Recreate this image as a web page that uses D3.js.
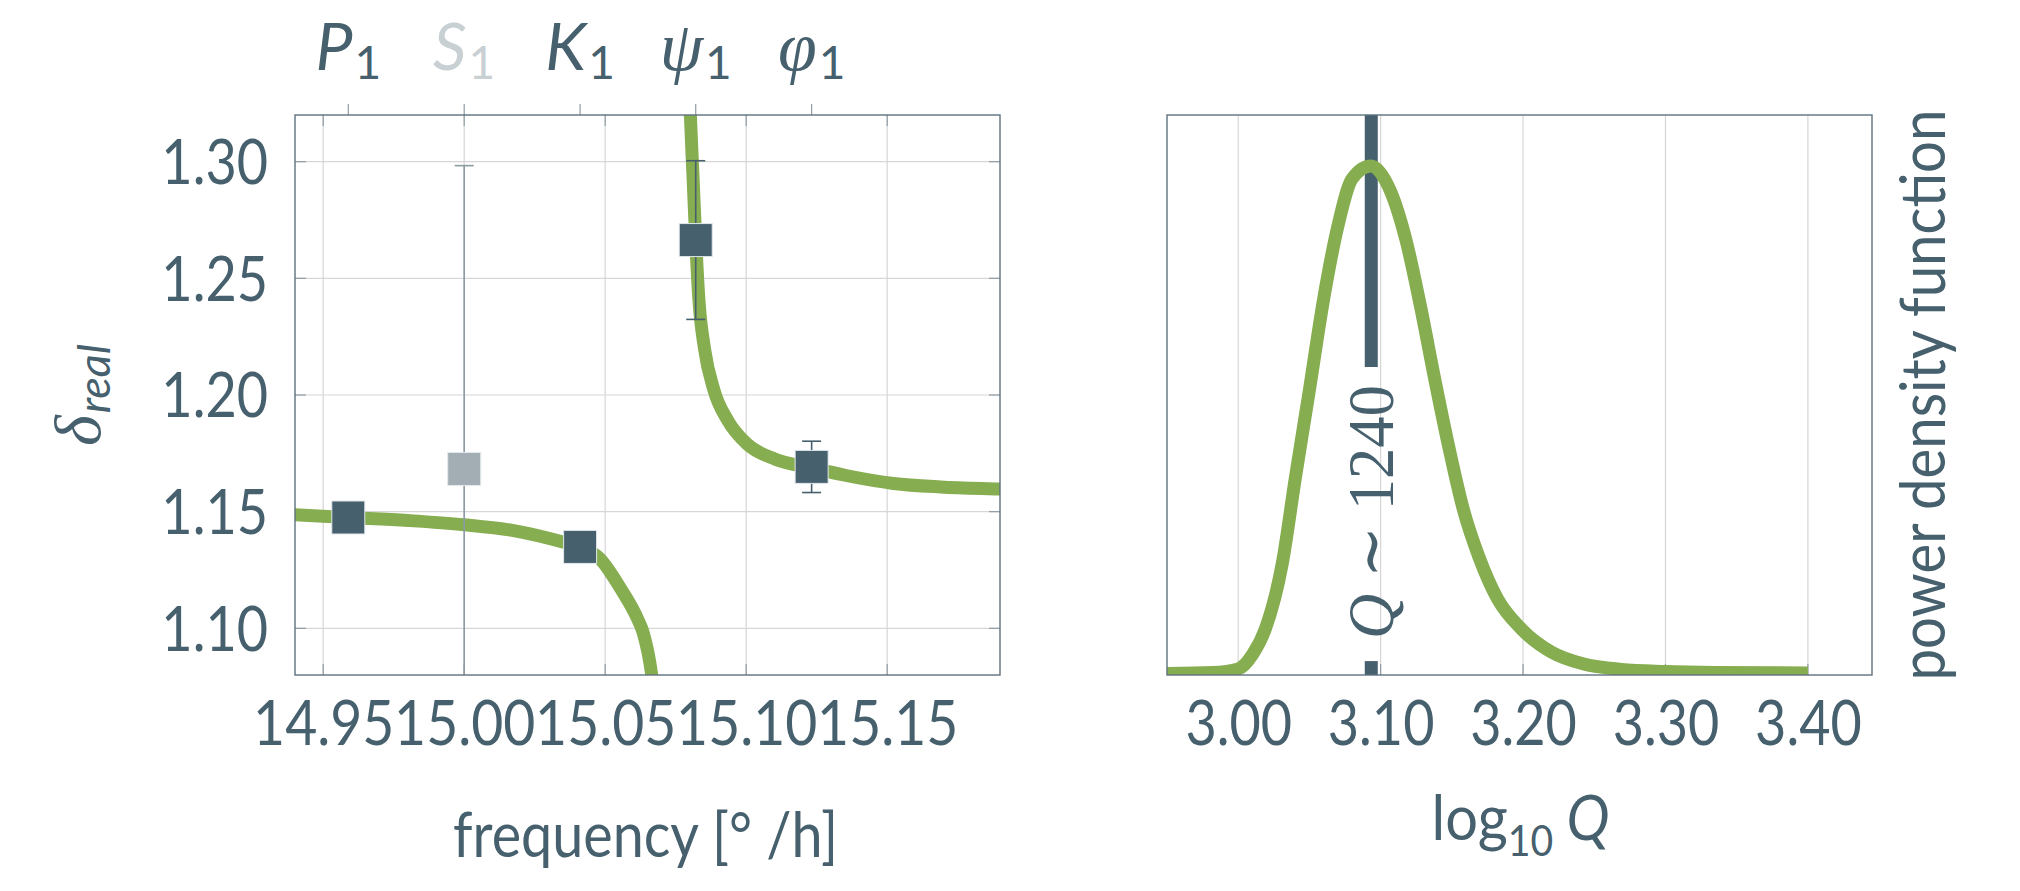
<!DOCTYPE html>
<html>
<head>
<meta charset="utf-8">
<script src="https://cdn.jsdelivr.net/npm/d3@7"></script>
<style>
  body { margin: 0; background: #fff; }
  svg text { font-family: Lato, 'Noto Sans', sans-serif; fill: #46606e; }
</style>
</head>
<body>
<svg id="chart" width="2020" height="891"></svg>
<script>
'use strict';

// diurnal tidal waves: name, frequency [deg/h], observed delta and its error
var waveNames = ['P', 'S', 'K', 'ψ', 'φ'];
var waveGreek = [false, false, false, true, true];
var waveFreq = [14.9589, 15.0000, 15.0411, 15.0821, 15.1232];
var deltaObs = [1.1475, 1.1683, 1.1349, 1.2664, 1.1692];
var deltaErr = [0.003, 0.130, 0.003, 0.034, 0.011];
var waveUsed = [true, false, true, true, true];

// fitted resonance curve (two branches around the NDFW)
var lowFreq = [14.935, 14.940, 14.959, 14.980, 15.000, 15.018, 15.035, 15.041, 15.048, 15.0555, 15.0615, 15.0635, 15.0665, 15.0675];
var lowDelta = [1.1490, 1.1487, 1.1475, 1.1462, 1.1444, 1.1418, 1.1370, 1.1349, 1.1300, 1.1170, 1.1040, 1.0980, 1.0800, 1.0700];
var highFreq = [15.0795, 15.0802, 15.0812, 15.0821, 15.0832, 15.0852, 15.0886, 15.0936, 15.1003, 15.1103, 15.1232, 15.1354, 15.1522, 15.1689, 15.1900, 15.1950];
var highDelta = [1.3450, 1.3200, 1.2920, 1.2664, 1.2413, 1.2200, 1.2019, 1.1888, 1.1790, 1.1725, 1.1688, 1.1655, 1.1621, 1.1606, 1.1597, 1.1595];

// probability density of log10 Q (normalised to the peak)
var logQ = [2.950, 2.982, 3.000, 3.010, 3.019, 3.031, 3.040, 3.050, 3.060, 3.070, 3.080, 3.093, 3.107, 3.118, 3.128, 3.138, 3.148, 3.158, 3.169, 3.182, 3.199, 3.220, 3.242, 3.269, 3.300, 3.335, 3.400];
var pdf = [0.003, 0.005, 0.012, 0.040, 0.090, 0.220, 0.385, 0.560, 0.739, 0.882, 0.975, 1.000, 0.950, 0.852, 0.724, 0.581, 0.446, 0.326, 0.232, 0.150, 0.090, 0.045, 0.022, 0.011, 0.007, 0.005, 0.004];
var bestQ = 1240;

var freqTicks = [14.95, 15.00, 15.05, 15.10, 15.15];
var deltaTicks = [1.10, 1.15, 1.20, 1.25, 1.30];
var qTicks = [3.00, 3.10, 3.20, 3.30, 3.40];

var dark = '#46606e';
var light = '#a3aeb4';
var lightText = '#c8d0d4';
var green = '#86ad50';
var gridColor = '#d6d6d6';
var tickColor = '#8e9ca5';
var frameColor = '#5d717e';
var serif = "'Liberation Serif', 'DejaVu Serif', serif";

var L = { x0: 295, x1: 1000, y0: 115, y1: 675 };
var R = { x0: 1167, x1: 1872, y0: 115, y1: 675 };

var svg = d3.select('#chart');
svg.append('rect').attr('width', 2020).attr('height', 891).attr('fill', '#fff');

var x = d3.scaleLinear().domain([14.94, 15.19]).range([L.x0, L.x1]);
var y = d3.scaleLinear().domain([1.08, 1.32]).range([L.y1, L.y0]);
var xq = d3.scaleLinear().domain([2.95, 3.445]).range([R.x0, R.x1]);
var yq = d3.scaleLinear().domain([0, 1.1]).range([R.y1, R.y0]);
var fmt = d3.format('.2f');

// label widths in the figure's narrow sans face (digits 0.5em, dot 0.278em)
var labelWidth = function labelWidth(s, size) {
  var w = 0;
  for (var i = 0; i < s.length; i++) w += s[i] === '.' ? 0.278 : 0.5;
  return w * size;
};

var defs = svg.append('defs');
defs.append('clipPath').attr('id', 'clipL').append('rect')
  .attr('x', L.x0).attr('y', L.y0).attr('width', L.x1 - L.x0).attr('height', L.y1 - L.y0);
defs.append('clipPath').attr('id', 'clipR').append('rect')
  .attr('x', R.x0).attr('y', R.y0).attr('width', R.x1 - R.x0).attr('height', R.y1 - R.y0);

// ---------- left panel ----------
var left = svg.append('g');

left.selectAll('line.vgrid').data(freqTicks).enter().append('line')
  .attr('x1', x).attr('x2', x).attr('y1', L.y0).attr('y2', L.y1)
  .attr('stroke', gridColor).attr('stroke-width', 1.2);
left.selectAll('line.hgrid').data(deltaTicks).enter().append('line')
  .attr('y1', y).attr('y2', y).attr('x1', L.x0).attr('x2', L.x1)
  .attr('stroke', gridColor).attr('stroke-width', 1.2);

// inward ticks on all four sides
[L.y0, L.y1].forEach(function (yy, k) {
  left.selectAll(null).data(freqTicks).enter().append('line')
    .attr('x1', x).attr('x2', x).attr('y1', yy).attr('y2', yy + (k ? -11 : 11))
    .attr('stroke', tickColor).attr('stroke-width', 1.2);
});
[L.x0, L.x1].forEach(function (xx, k) {
  left.selectAll(null).data(deltaTicks).enter().append('line')
    .attr('y1', y).attr('y2', y).attr('x1', xx).attr('x2', xx + (k ? -11 : 11))
    .attr('stroke', tickColor).attr('stroke-width', 1.2);
});

// wave ticks above the frame
left.selectAll('line.wave').data(waveFreq).enter().append('line')
  .attr('x1', x).attr('x2', x).attr('y1', L.y0).attr('y2', L.y0 - 11)
  .attr('stroke', tickColor).attr('stroke-width', 1.2);

var line = d3.line().curve(d3.curveMonotoneX);
var curves = left.append('g').attr('clip-path', 'url(#clipL)');
[[lowFreq, lowDelta], [highFreq, highDelta]].forEach(function (branch) {
  curves.append('path')
    .attr('d', line(branch[0].map(function (f, i) { return [x(f), y(branch[1][i])]; })))
    .attr('fill', 'none').attr('stroke', green).attr('stroke-width', 13);
});

var waves = d3.range(waveFreq.length);
var bars = left.append('g').attr('clip-path', 'url(#clipL)');
bars.selectAll('line.err').data(waves).enter().append('line')
  .attr('x1', function (i) { return x(waveFreq[i]); })
  .attr('x2', function (i) { return x(waveFreq[i]); })
  .attr('y1', function (i) { return y(deltaObs[i] - deltaErr[i]); })
  .attr('y2', function (i) { return y(deltaObs[i] + deltaErr[i]); })
  .attr('stroke', function (i) { return waveUsed[i] ? dark : '#8c9ba4'; })
  .attr('stroke-width', 1.6);
[-1, 1].forEach(function (s) {
  bars.selectAll(null).data(waves).enter().append('line')
    .attr('x1', function (i) { return x(waveFreq[i]) - 9.5; })
    .attr('x2', function (i) { return x(waveFreq[i]) + 9.5; })
    .attr('y1', function (i) { return y(deltaObs[i] + s * deltaErr[i]); })
    .attr('y2', function (i) { return y(deltaObs[i] + s * deltaErr[i]); })
    .attr('stroke', function (i) { return waveUsed[i] ? dark : '#8c9ba4'; })
    .attr('stroke-width', 1.6);
});

left.selectAll('rect.obs').data(waves).enter().append('rect')
  .attr('x', function (i) { return x(waveFreq[i]) - 16.5; })
  .attr('y', function (i) { return y(deltaObs[i]) - 16.5; })
  .attr('width', 33).attr('height', 33)
  .attr('fill', function (i) { return waveUsed[i] ? dark : light; })
  .attr('stroke', '#e2e8eb').attr('stroke-width', 1);

left.append('rect')
  .attr('x', L.x0).attr('y', L.y0).attr('width', L.x1 - L.x0).attr('height', L.y1 - L.y0)
  .attr('fill', 'none').attr('stroke', frameColor).attr('stroke-width', 1.4);

// tick labels
var yAxis = left.append('g').attr('transform', 'translate(' + L.x0 + ',0)')
  .call(d3.axisLeft(y).tickValues(deltaTicks).tickFormat(fmt).tickSize(0).tickPadding(27));
var xAxis = left.append('g').attr('transform', 'translate(0,' + L.y1 + ')')
  .call(d3.axisBottom(x).tickValues(freqTicks).tickFormat(fmt).tickSize(0).tickPadding(27));
[yAxis, xAxis].forEach(function (ax) {
  ax.select('.domain').remove();
  ax.selectAll('text').attr('font-size', 61).attr('font-family', null).attr('fill', dark)
    .attr('lengthAdjust', 'spacingAndGlyphs');
});
yAxis.selectAll('text').attr('dy', '0.36em')
  .attr('textLength', function (d) { return labelWidth(fmt(d), 60); });
xAxis.selectAll('text')
  .attr('textLength', function (d) { return labelWidth(fmt(d), 62); });

// wave names above the panel
var names = left.selectAll('text.wave').data(waves).enter().append('text')
  .attr('x', function (i) { return x(waveFreq[i]); })
  .attr('y', 70)
  .attr('text-anchor', 'middle')
  .style('fill', function (i) { return waveUsed[i] ? dark : lightText; });
names.append('tspan')
  .attr('font-size', function (i) { return waveGreek[i] ? 70 : 66; })
  .attr('font-style', 'italic')
  .style('font-family', function (i) { return waveGreek[i] ? serif : null; })
  .style('fill', function (i) { return waveUsed[i] ? dark : lightText; })
  .text(function (i) { return waveNames[i]; });
names.append('tspan')
  .attr('font-size', 46).attr('dy', 9).attr('dx', 2)
  .style('fill', function (i) { return waveUsed[i] ? dark : lightText; })
  .text('1');

var ylab = left.append('text')
  .attr('transform', 'translate(100,' + ((L.y0 + L.y1) / 2) + ') rotate(-90)')
  .attr('text-anchor', 'middle');
ylab.append('tspan').style('font-family', serif).attr('font-style', 'italic').attr('font-size', 66).text('δ');
ylab.append('tspan').attr('font-style', 'italic').attr('font-size', 45).attr('dy', 10).attr('dx', 2).text('real');

left.append('text')
  .attr('x', (L.x0 + L.x1) / 2 - 2).attr('y', 857)
  .attr('text-anchor', 'middle').attr('font-size', 62)
  .attr('textLength', 385).attr('lengthAdjust', 'spacingAndGlyphs')
  .text('frequency [° /h]');

// ---------- right panel ----------
var right = svg.append('g');

right.selectAll('line.vgrid').data(qTicks).enter().append('line')
  .attr('x1', xq).attr('x2', xq).attr('y1', R.y0).attr('y2', R.y1)
  .attr('stroke', gridColor).attr('stroke-width', 1.2);
right.selectAll('line.btick').data(qTicks).enter().append('line')
  .attr('x1', xq).attr('x2', xq).attr('y1', R.y1).attr('y2', R.y1 - 11)
  .attr('stroke', tickColor).attr('stroke-width', 1.2);

var qx = xq(Math.log10(bestQ));
var labelMid = yq(0.32);
var qLabel = right.append('text')
  .attr('transform', 'translate(' + qx + ',' + labelMid + ') rotate(-90)')
  .attr('text-anchor', 'middle').attr('dy', '0.33em')
  .style('font-family', serif).attr('font-size', 66)
  .attr('textLength', 254).attr('lengthAdjust', 'spacingAndGlyphs');
qLabel.append('tspan').attr('font-style', 'italic').text('Q');
qLabel.append('tspan').text(' ∼ 1240');

// marker line with a gap for its label
var half = 254 / 2;
right.append('line')
  .attr('x1', qx).attr('x2', qx).attr('y1', R.y0).attr('y2', labelMid - half - 18)
  .attr('stroke', dark).attr('stroke-width', 13);
right.append('line')
  .attr('x1', qx).attr('x2', qx).attr('y1', labelMid + half + 22).attr('y2', R.y1)
  .attr('stroke', dark).attr('stroke-width', 13);

right.append('g').attr('clip-path', 'url(#clipR)').append('path')
  .attr('d', line(logQ.map(function (q, i) { return [xq(q), yq(pdf[i])]; })))
  .attr('fill', 'none').attr('stroke', green).attr('stroke-width', 13);

right.append('rect')
  .attr('x', R.x0).attr('y', R.y0).attr('width', R.x1 - R.x0).attr('height', R.y1 - R.y0)
  .attr('fill', 'none').attr('stroke', frameColor).attr('stroke-width', 1.4);

var qAxis = right.append('g').attr('transform', 'translate(0,' + R.y1 + ')')
  .call(d3.axisBottom(xq).tickValues(qTicks).tickFormat(fmt).tickSize(0).tickPadding(27));
qAxis.select('.domain').remove();
qAxis.selectAll('text').attr('font-size', 61).attr('font-family', null).attr('fill', dark)
  .attr('textLength', function (d) { return labelWidth(fmt(d), 60); })
  .attr('lengthAdjust', 'spacingAndGlyphs');

var qlab = right.append('text')
  .attr('x', (R.x0 + R.x1) / 2 + 1).attr('y', 840)
  .attr('text-anchor', 'middle')
  .attr('textLength', 178).attr('lengthAdjust', 'spacingAndGlyphs');
qlab.append('tspan').attr('font-size', 62).text('log');
qlab.append('tspan').attr('font-size', 42).attr('dy', 16).text('10');
qlab.append('tspan').attr('font-size', 62).attr('font-style', 'italic').attr('dy', -16).attr('dx', 14).text('Q');

right.append('text')
  .attr('transform', 'translate(1945,' + ((R.y0 + R.y1) / 2) + ') rotate(-90)')
  .attr('text-anchor', 'middle').attr('font-size', 61)
  .attr('textLength', 571).attr('lengthAdjust', 'spacingAndGlyphs')
  .text('power density function');
</script>
</body>
</html>
